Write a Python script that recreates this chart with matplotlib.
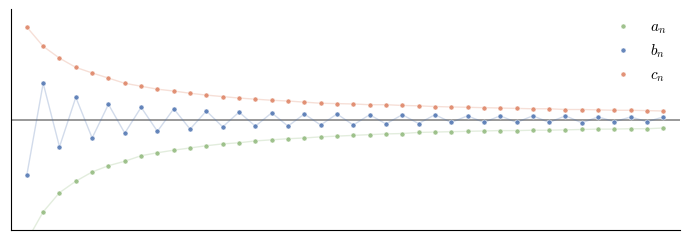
import matplotlib
matplotlib.use("Agg")
import matplotlib.pyplot as plt

plt.rcParams['mathtext.fontset'] = 'cm'

n = list(range(1, 41))

a_n = [-0.327, -0.249, -0.197, -0.166, -0.141, -0.124, -0.112, -0.097, -0.089, -0.082,
       -0.076, -0.070, -0.065, -0.062, -0.057, -0.054, -0.051, -0.049, -0.046, -0.044,
       -0.042, -0.040, -0.038, -0.037, -0.034, -0.033, -0.032, -0.031, -0.030, -0.029,
       -0.029, -0.028, -0.028, -0.027, -0.026, -0.025, -0.025, -0.024, -0.024, -0.022]

b_n = [-0.149, 0.099, -0.073, 0.061, -0.049, 0.042, -0.036, 0.034, -0.031, 0.030,
       -0.025, 0.024, -0.019, 0.021, -0.017, 0.019, -0.017, 0.016, -0.014, 0.016,
       -0.014, 0.014, -0.011, 0.014, -0.010, 0.014, -0.007, 0.011, -0.007, 0.011,
       -0.007, 0.011, -0.007, 0.011, -0.008, 0.008, -0.005, 0.008, -0.005, 0.008]

c_n = [0.251, 0.199, 0.167, 0.142, 0.127, 0.113, 0.099, 0.091, 0.083, 0.078,
       0.072, 0.067, 0.063, 0.059, 0.056, 0.053, 0.051, 0.048, 0.045, 0.044,
       0.043, 0.041, 0.041, 0.039, 0.038, 0.036, 0.035, 0.034, 0.033, 0.032,
       0.031, 0.030, 0.030, 0.028, 0.028, 0.027, 0.026, 0.026, 0.025, 0.024]

series = {
    r"$a_n$": (a_n, "#8fb87a"),
    r"$b_n$": (b_n, "#4c72b0"),
    r"$c_n$": (c_n, "#dd8060"),
}

fig = plt.figure(figsize=(6.88, 2.4), dpi=100)
ax = fig.add_axes([0.0153, 0.0417, 0.9727, 0.9208])

ax.axhline(0, color="#999999", lw=1.4, zorder=1)

for label, (vals, color) in series.items():
    ax.plot(n, vals, color=color, lw=1.0, alpha=0.25, zorder=2)
    ax.plot(n, vals, ls="none", marker="o", ms=3.6, color=color, alpha=0.85,
            mec="white", mew=0.4, label=label, zorder=3)

ax.set_xlim(0, 41)
ax.set_ylim(-0.298, 0.30)
ax.set_xticks([])
ax.set_yticks([])
for side in ("top", "right"):
    ax.spines[side].set_visible(False)

ax.legend(loc="upper right", frameon=False, fontsize=11, handlelength=1.0,
          handletextpad=1.26, labelspacing=0.45, borderaxespad=0.3,
          bbox_to_anchor=(0.996, 1.002))

fig.savefig("out.png", dpi=100)
